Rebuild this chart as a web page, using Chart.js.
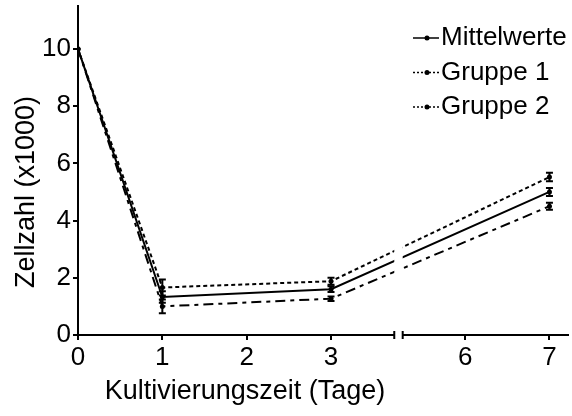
<!DOCTYPE html>
<html>
<head>
<meta charset="utf-8">
<script src="https://cdn.jsdelivr.net/npm/chart.js@4"></script>
<style>
  html, body { margin: 0; padding: 0; background: #fff; }
  #wrap { width: 572px; height: 416px; }
</style>
</head>
<body>
<div id="wrap"><canvas id="cellChart"></canvas></div>
<script>
// measured days and tick labels
const days = [0, 1, 3, 7];
const tickDays = [0, 1, 2, 3, 6, 7];
const seriesNames = ["Mittelwerte", "Gruppe 1", "Gruppe 2"];
const yTicks = [0, 2, 4, 6, 8, 10];
const xTitle = "Kultivierungszeit (Tage)";
const yTitle = "Zellzahl (x1000)";

// cell counts (x1000) and their error bars
const mittelwerte = [10, 1.33, 1.6, 5.0];
const mittelwerteErr = [0, 0.2, 0.1, 0.14];
const gruppe1 = [10, 1.66, 1.88, 5.52];
const gruppe1Err = [0, 0.28, 0.12, 0.15];
const gruppe2 = [10, 1.0, 1.27, 4.5];
const gruppe2Err = [0, 0.24, 0.08, 0.12];

// axis break between day 3 and day 6
const breakStart = 3.75, breakEnd = 3.85, breakShift = 1.41;
function axisPos(day) {
    return day <= 3 ? day : day - breakShift;
}

const FONT = "'Liberation Sans', Arial, sans-serif";

function makeSet(label, values, errors, dash, legendDash) {
    return {
        label: label,
        data: days.map((d, i) => ({ x: axisPos(d), y: values[i] })),
        errors: errors,
        legendDash: legendDash,
        borderColor: "#000",
        backgroundColor: "#000",
        borderWidth: 2,
        borderDash: dash,
        pointRadius: 2.5,
        pointBorderWidth: 0,
        tension: 0,
    };
}

// error bars drawn from each dataset's errors array
const errorBars = {
    id: "errorBars",
    afterDatasetsDraw(chart) {
        const ctx = chart.ctx;
        const yScale = chart.scales.y;
        ctx.save();
        ctx.strokeStyle = "#000";
        ctx.lineWidth = 2;
        ctx.setLineDash([]);
        chart.data.datasets.forEach((ds, di) => {
            const meta = chart.getDatasetMeta(di);
            meta.data.forEach((pt, i) => {
                const err = ds.errors[i];
                if (!err) return;
                const top = yScale.getPixelForValue(ds.data[i].y + err);
                const bot = yScale.getPixelForValue(ds.data[i].y - err);
                ctx.beginPath();
                ctx.moveTo(pt.x, top); ctx.lineTo(pt.x, bot);
                ctx.moveTo(pt.x - 3.5, top); ctx.lineTo(pt.x + 3.5, top);
                ctx.moveTo(pt.x - 3.5, bot); ctx.lineTo(pt.x + 3.5, bot);
                ctx.stroke();
            });
        });
        ctx.restore();
    }
};

// axis break, titles and legend
const decorations = {
    id: "decorations",
    afterDraw(chart) {
        const ctx = chart.ctx;
        const xs = chart.scales.x;
        const area = chart.chartArea;
        const x0 = xs.getPixelForValue(breakStart);
        const x1 = xs.getPixelForValue(breakEnd);
        ctx.save();
        ctx.fillStyle = "#fff";
        ctx.fillRect(x0, area.top, x1 - x0, area.bottom - area.top + 2);
        ctx.strokeStyle = "#000";
        ctx.lineWidth = 2;
        ctx.beginPath();
        ctx.moveTo(x0, area.bottom - 4); ctx.lineTo(x0, area.bottom + 4);
        ctx.moveTo(x1, area.bottom - 4); ctx.lineTo(x1, area.bottom + 4);
        ctx.stroke();

        // axis titles
        ctx.fillStyle = "#000";
        ctx.font = "27px " + FONT;
        ctx.textAlign = "center";
        ctx.textBaseline = "middle";
        ctx.fillText(xTitle, 245, 392);
        ctx.save();
        ctx.translate(27, 192);
        ctx.rotate(-Math.PI / 2);
        ctx.fillText(yTitle, 0, 0);
        ctx.restore();

        // legend
        ctx.font = "26px " + FONT;
        ctx.textAlign = "left";
        chart.data.datasets.forEach((ds, i) => {
            const y = 38 + i * 34.5;
            ctx.setLineDash(ds.legendDash);
            ctx.lineWidth = 1.5;
            ctx.beginPath();
            ctx.moveTo(413, y); ctx.lineTo(439, y);
            ctx.stroke();
            ctx.setLineDash([]);
            ctx.beginPath();
            ctx.arc(427, y, 2.5, 0, Math.PI * 2);
            ctx.fill();
            ctx.fillText(ds.label, 441, y);
        });
        ctx.restore();
    }
};

document.addEventListener("DOMContentLoaded", function() {
    const canvas = document.getElementById("cellChart");
    new Chart(canvas, {
        type: "line",
        data: {
            datasets: [
                makeSet(seriesNames[0], mittelwerte, mittelwerteErr, [], []),
                makeSet(seriesNames[1], gruppe1, gruppe1Err, [4, 3], [2, 2]),
                makeSet(seriesNames[2], gruppe2, gruppe2Err, [10, 5, 4, 5], [2, 2]),
            ],
        },
        options: {
            responsive: true,
            maintainAspectRatio: false,
            animation: false,
            layout: { padding: { top: 6, right: 0, left: 0, bottom: 0 } },
            plugins: {
                legend: { display: false },
                tooltip: { enabled: false },
            },
            scales: {
                x: {
                    type: "linear",
                    min: 0,
                    max: 5.81,
                    afterBuildTicks: (scale) => {
                        scale.ticks = tickDays.map(d => ({ value: axisPos(d) }));
                    },
                    afterFit: (scale) => {
                        scale.height = 81;
                        scale.paddingLeft = 0;
                        scale.paddingRight = 0;
                    },
                    ticks: {
                        color: "#000",
                        font: { family: FONT, size: 26 },
                        padding: 2,
                        maxRotation: 0,
                        callback: (v, i) => String(tickDays[i]),
                    },
                    grid: {
                        drawOnChartArea: false,
                        drawTicks: true,
                        tickLength: 5,
                        color: "#000",
                        lineWidth: 2,
                    },
                    border: { color: "#000", width: 2 },
                },
                y: {
                    min: 0,
                    max: 11.5,
                    afterBuildTicks: (scale) => {
                        scale.ticks = yTicks.map(v => ({ value: v }));
                    },
                    afterFit: (scale) => {
                        scale.width = 78;
                        scale.paddingTop = 0;
                        scale.paddingBottom = 0;
                    },
                    ticks: {
                        color: "#000",
                        font: { family: FONT, size: 26 },
                        padding: 2,
                    },
                    grid: {
                        drawOnChartArea: false,
                        drawTicks: true,
                        tickLength: 5,
                        color: "#000",
                        lineWidth: 2,
                    },
                    border: { color: "#000", width: 2 },
                },
            },
        },
        plugins: [errorBars, decorations],
    });
});
</script>
</body>
</html>
